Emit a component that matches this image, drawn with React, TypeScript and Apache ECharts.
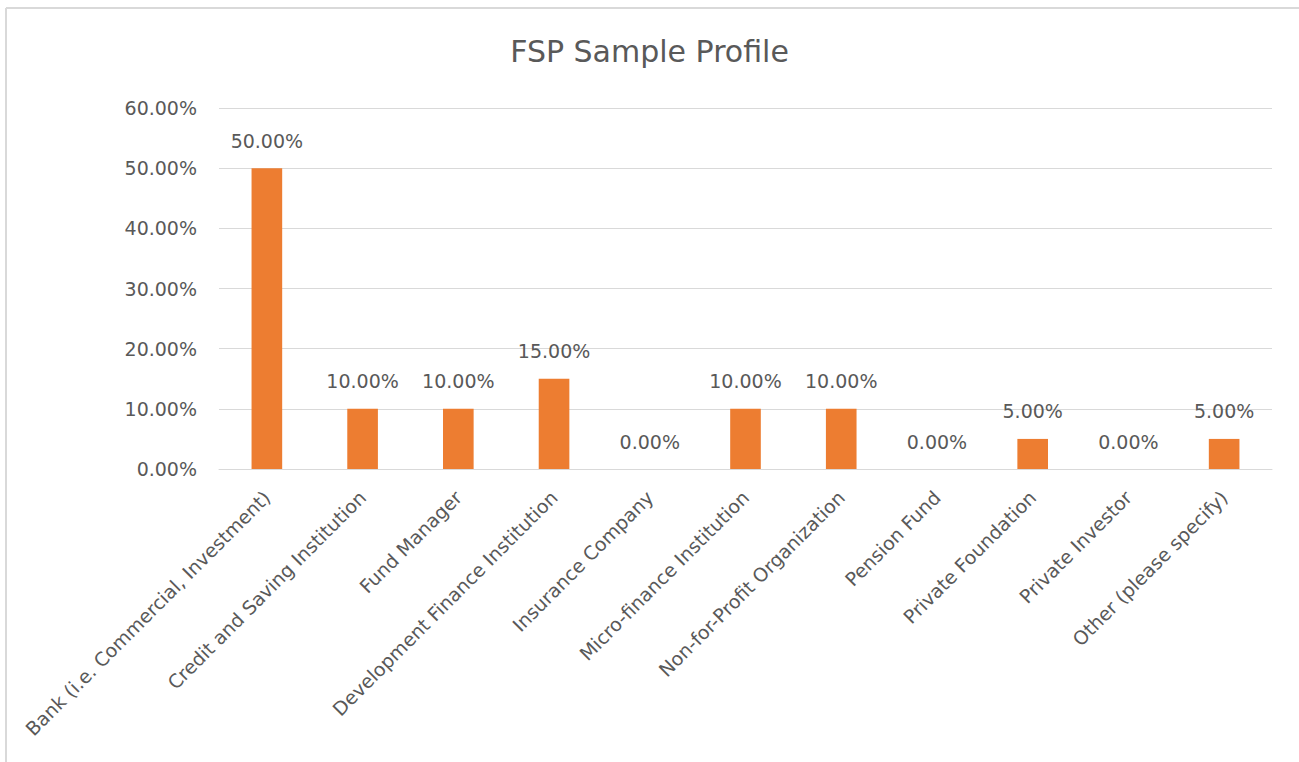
import React, { useEffect, useRef } from "react";
import * as echarts from "echarts";

const title = "FSP Sample Profile";
const categories = [
  "Bank (i.e. Commercial, Investment)",
  "Credit and Saving Institution",
  "Fund Manager",
  "Development Finance Institution",
  "Insurance Company",
  "Micro-finance Institution",
  "Non-for-Profit Organization",
  "Pension Fund",
  "Private Foundation",
  "Private Investor",
  "Other (please specify)",
];
const values = [0.5, 0.1, 0.1, 0.15, 0, 0.1, 0.1, 0, 0.05, 0, 0.05];
const yMin = 0;
const yMax = 0.6;
const yInterval = 0.1;

const FONT = "DejaVu Sans";
const TEXT = "#595959";
const GRID = "#d9d9d9";

export default function App() {
  const ref = useRef<HTMLDivElement>(null);
  useEffect(() => {
    if (!ref.current) return;
    const chart = echarts.init(ref.current, undefined, { renderer: "svg" });
    chart.setOption({
      animation: false,
      backgroundColor: "#ffffff",
      title: {
        text: title,
        left: "center",
        top: 31,
        textStyle: { fontFamily: FONT, fontSize: 30, fontWeight: "normal", color: TEXT },
      },
      graphic: [
        { type: "line", shape: { x1: 6, y1: 8, x2: 1299, y2: 8 }, style: { stroke: GRID, lineWidth: 2 } },
        { type: "line", shape: { x1: 6, y1: 8, x2: 6, y2: 762 }, style: { stroke: GRID, lineWidth: 2 } },
      ],
      grid: { left: 219, right: 27, top: 108, bottom: 762 - 469, containLabel: false },
      xAxis: {
        type: "category",
        data: categories,
        axisLine: { show: true, lineStyle: { color: GRID, width: 1 } },
        axisTick: { show: false },
        axisLabel: {
          rotate: 45,
          interval: 0,
          margin: 25,
          fontFamily: FONT,
          fontSize: 19,
          color: TEXT,
        },
      },
      yAxis: {
        type: "value",
        min: yMin,
        max: yMax,
        interval: yInterval,
        axisLine: { show: false },
        axisTick: { show: false },
        splitLine: { lineStyle: { color: GRID, width: 1 } },
        axisLabel: {
          margin: 22,
          fontFamily: FONT,
          fontSize: 19,
          color: TEXT,
          formatter: (v: number) => (v * 100).toFixed(2) + "%",
        },
      },
      series: [
        {
          type: "bar",
          data: values,
          barWidth: "32%",
          itemStyle: { color: "#ED7D31" },
          label: {
            show: true,
            position: "top",
            distance: 18,
            fontFamily: FONT,
            fontSize: 19,
            color: TEXT,
            formatter: (p: any) => (p.value * 100).toFixed(2) + "%",
          },
        },
      ],
    });
    return () => chart.dispose();
  }, []);
  return (
    <div
      ref={ref}
      style={{ position: "fixed", left: 0, top: 0, width: 1299, height: 762 }}
    />
  );
}
